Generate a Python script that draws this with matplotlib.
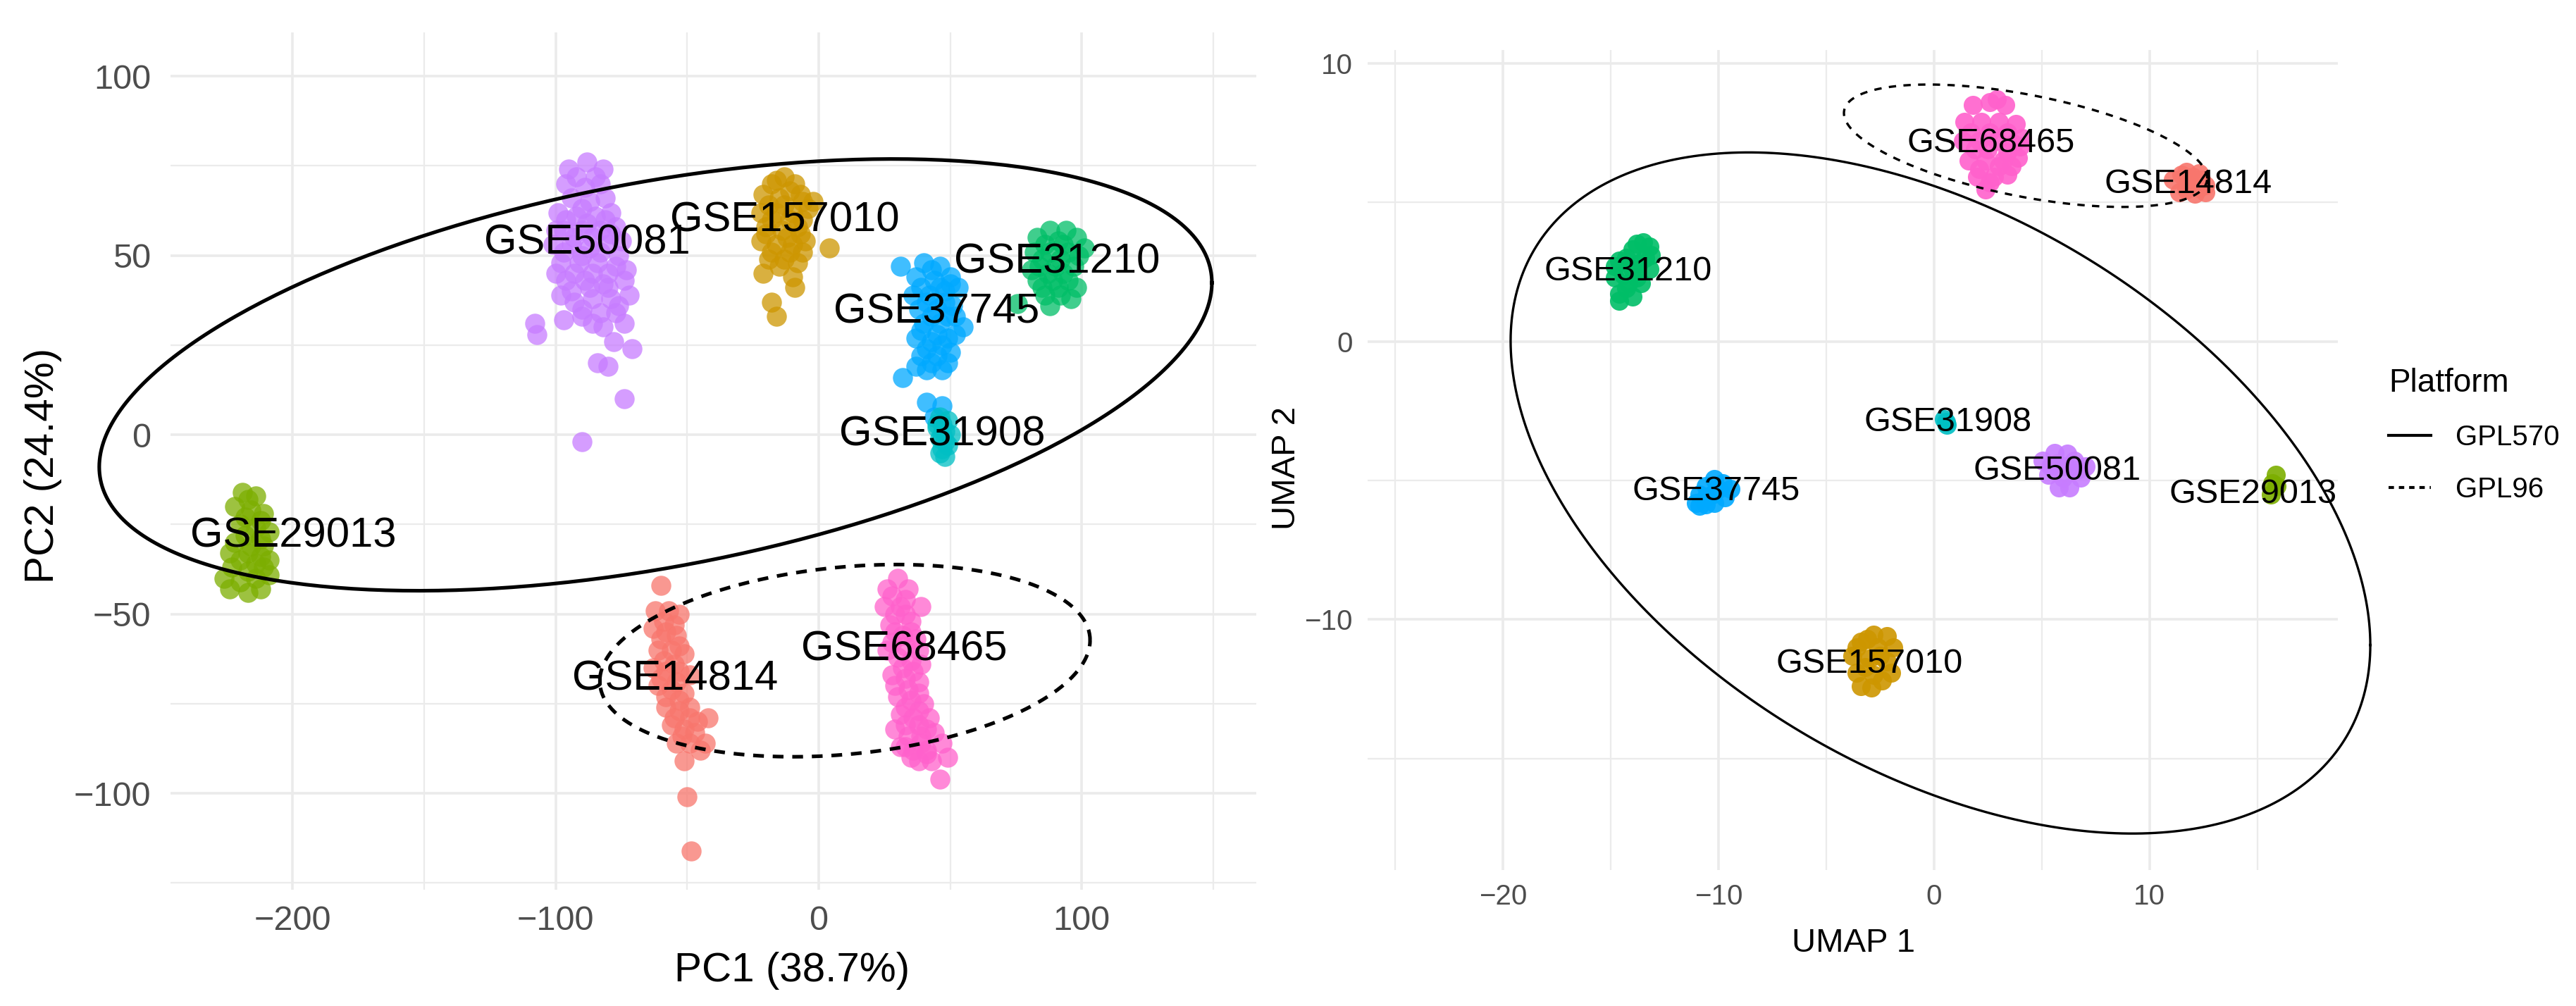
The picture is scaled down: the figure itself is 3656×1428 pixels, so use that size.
import numpy as np
import matplotlib
matplotlib.use("Agg")
import matplotlib.pyplot as plt
from matplotlib.lines import Line2D

plt.rcParams["font.family"] = ["Liberation Sans", "DejaVu Sans"]
plt.rcParams["lines.scale_dashes"] = False

# datasets, in ggplot's default hue order
datasets = ["GSE14814", "GSE157010", "GSE29013", "GSE31210",
            "GSE31908", "GSE37745", "GSE50081", "GSE68465"]
dataset_colors = ["#F8766D", "#CD9600", "#7CAE00", "#00BE67",
                  "#00BFC4", "#00A9FF", "#C77CFF", "#FF61CC"]
platforms = ["GPL570", "GPL96"]

# ---- PCA scores (PC1, PC2) ----
pca_gse14814 = [(-60, -42), (-62, -49), (-57, -49), (-53, -50), (-63, -54), (-58, -55),
                (-54, -56), (-61, -60), (-56, -60), (-51, -61), (-63, -65), (-58, -66),
                (-53, -66), (-49, -67), (-61, -70), (-56, -71), (-51, -72), (-58, -76),
                (-53, -77), (-49, -76), (-56, -81), (-51, -82), (-46, -80), (-42, -79),
                (-54, -86), (-49, -86), (-43, -86), (-51, -91), (-50, -101), (-48.5, -116),
                (-59, -52), (-55, -53), (-60, -57), (-53, -59), (-59, -63), (-55, -64),
                (-60, -68), (-54, -69), (-58, -73), (-53, -74), (-55, -79), (-49, -79),
                (-52, -84), (-47, -83), (-45, -88)]
pca_gse157010 = [(-13, 72), (-18, 70), (-9, 70), (-21, 67), (-15, 66), (-7, 67), (-2, 65),
                 (-22, 62), (-16, 62), (-10, 62), (-4, 63), (-20, 58), (-14, 57), (-8, 58),
                 (-22, 54), (-16, 53), (-10, 53), (-5, 54), (-19, 49), (-13, 49), (-8, 48),
                 (-21, 45), (-10, 44), (4, 52), (-9, 41), (-18, 37), (-16, 33),
                 (-16, 71), (-11, 68), (-19, 64), (-13, 64), (-6, 65), (-18, 60), (-11, 60),
                 (-6, 60), (-20, 56), (-12, 55), (-7, 56), (-18, 51), (-11, 51), (-15, 47),
                 (-6, 51)]
pca_gse29013 = [(-219, -16), (-214, -17), (-222, -20), (-216, -21), (-211, -22), (-220, -25),
                (-214, -26), (-209, -27), (-222, -30), (-216, -31), (-211, -31), (-220, -35),
                (-214, -36), (-209, -35), (-226, -40), (-220, -41), (-214, -40), (-209, -39),
                (-224, -43), (-217, -44), (-212, -43), (-217, -18), (-218, -23), (-212, -24),
                (-218, -28), (-212, -29), (-224, -33), (-217, -33), (-212, -34), (-223, -37),
                (-217, -38), (-211, -37)]
pca_gse31210 = [(88, 57), (94, 57), (83, 55), (91, 54), (98, 55), (82, 51), (88, 51),
                (95, 51), (101, 52), (84, 47), (90, 47), (97, 47), (83, 43), (89, 43),
                (95, 43), (86, 39), (92, 39), (88, 36), (75.5, 36.6), (98, 41),
                (86, 53), (93, 53), (85, 49), (92, 49), (99, 50), (87, 45), (93, 45),
                (81, 46), (91, 41), (85, 41), (96, 38)]
pca_gse31908 = [(46, 5), (49, 4), (45, 2), (48, 1), (50, 0), (46, -1), (49, -3),
                (47, -4), (48, -6), (45, 3), (47, 3), (47, 0), (48, -2), (46, -5)]
pca_gse37745 = [(31, 47), (40, 48), (46, 47), (37, 44), (44, 43), (50, 44), (36, 39),
                (42, 39), (48, 40), (53, 41), (38, 35), (45, 35), (51, 36), (40, 31),
                (46, 31), (55, 30), (37, 27), (43, 26), (49, 27), (39, 22), (45, 22),
                (50, 23), (41, 18), (47, 18), (32, 16), (41, 9), (47, 8), (44, 5),
                (43, 46), (39, 41), (46, 41), (50, 42), (41, 37), (48, 37), (43, 33),
                (49, 33), (52, 33), (39, 29), (45, 28), (52, 28), (41, 24), (47, 25),
                (43, 20), (49, 20), (37, 19)]
pca_gse50081 = [(-88, 76), (-92, 72), (-85, 72), (-96, 70), (-89, 69), (-83, 70), (-94, 66),
                (-87, 65), (-81, 66), (-99, 62), (-92, 61), (-85, 61), (-79, 62), (-97, 57),
                (-90, 57), (-83, 57), (-77, 58), (-101, 53), (-94, 53), (-87, 52), (-80, 53),
                (-75, 54), (-98, 48), (-91, 48), (-84, 48), (-77, 47), (-96, 43), (-89, 43),
                (-82, 42), (-74, 43), (-98, 39), (-86, 38), (-79, 38), (-72, 39), (-90, 35),
                (-83, 34), (-108, 31), (-107, 28), (-97, 32), (-90, 33), (-86, 31), (-74, 31),
                (-78, 26), (-71, 24), (-84, 20), (-80, 19), (-74, 10), (-90, -2),
                (-95, 74), (-82, 74), (-90, 63), (-96, 60), (-88, 59), (-81, 60), (-100, 57),
                (-93, 55), (-86, 55), (-79, 56), (-97, 51), (-90, 50), (-83, 51), (-76, 50),
                (-100, 45), (-93, 45), (-86, 45), (-80, 45), (-73, 46), (-94, 40), (-87, 41),
                (-80, 41), (-76, 36), (-93, 37), (-82, 30), (-77, 34)]
pca_gse68465 = [(30, -40), (26, -43), (34, -43), (39, -48), (25, -48), (31, -48), (35, -52),
                (27, -53), (32, -56), (37, -57), (26, -60), (30, -62), (35, -63), (39, -64),
                (28, -67), (33, -68), (38, -69), (30, -73), (35, -74), (40, -75), (31, -78),
                (36, -79), (42, -79), (29, -82), (34, -84), (39, -84), (44, -83), (31, -87),
                (36, -88), (41, -88), (47, -86), (38, -91), (43, -91), (49, -90), (46, -96),
                (28, -45), (33, -46), (29, -50), (33, -50), (29, -55), (35, -55), (28, -58),
                (33, -59), (38, -60), (32, -65), (36, -66), (29, -70), (34, -71), (38, -72),
                (33, -76), (38, -77), (33, -81), (38, -81), (41, -82), (33, -87), (39, -86),
                (35, -90), (41, -89)]

pca_label_x = [-54.7, -13.0, -199.6, 90.7, 47.1, 44.9, -88.0, 32.6]
pca_label_y = [-68.2, 59.8, -28.3, 48.1, 0.0, 34.2, 53.5, -59.9]

# platform ellipses: centre, half extents along PC1/PC2 and covariance term
pca_ell_cx = [-62.0, 10.0]
pca_ell_cy = [16.7, -63.0]
pca_ell_rx = [211.5, 93.2]
pca_ell_ry = [60.2, 26.8]
pca_ell_cov = [5430.0, 530.0]

# ---- UMAP embedding ----
umap_gse14814 = [(11.7, 6.1), (12.3, 6.05), (11.1, 5.8), (11.8, 5.7), (12.6, 5.6),
                 (11.4, 5.35), (12.1, 5.3), (12.6, 5.35), (12.0, 5.9), (11.5, 6.0),
                 (12.4, 5.8), (11.7, 5.45), (12.3, 5.5)]
umap_gse157010 = [(-2.8, -10.55), (-2.2, -10.6), (-3.4, -10.8), (-2.6, -11.0), (-1.9, -11.0),
                  (-3.8, -11.3), (-3.0, -11.4), (-2.2, -11.5), (-3.6, -11.9), (-2.8, -12.0),
                  (-2.0, -11.9), (-3.4, -12.4), (-2.9, -12.45), (-3.1, -10.7), (-3.2, -11.7),
                  (-2.4, -12.2), (-2.5, -11.3), (-3.6, -11.0)]
umap_gse29013 = [(15.85, -4.8), (15.7, -5.1), (15.9, -5.2), (15.65, -5.5)]
umap_gse31210 = [(-13.5, 3.55), (-13.2, 3.4), (-14.0, 3.3), (-13.4, 3.0), (-14.6, 2.9),
                 (-14.0, 2.6), (-13.2, 2.6), (-14.8, 2.3), (-14.2, 2.1), (-13.6, 2.1),
                 (-14.6, 1.7), (-14.0, 1.6), (-14.6, 1.45), (-14.8, 2.7), (-13.15, 3.1),
                 (-13.8, 3.5), (-14.3, 3.0), (-13.7, 2.8), (-14.4, 2.4), (-13.8, 2.3),
                 (-14.3, 1.9)]
umap_gse31908 = [(0.45, -2.8), (0.6, -3.0), (0.55, -2.9)]
umap_gse37745 = [(-10.2, -4.95), (-10.6, -5.2), (-9.8, -5.1), (-9.45, -5.3), (-10.9, -5.5),
                 (-10.3, -5.5), (-9.7, -5.6), (-11.05, -5.8), (-10.6, -5.85), (-10.9, -5.9),
                 (-10.0, -5.3), (-10.6, -5.6), (-10.2, -5.8)]
umap_gse50081 = [(5.6, -4.0), (6.2, -4.05), (5.05, -4.3), (5.7, -4.4), (6.5, -4.3),
                 (7.05, -4.5), (5.3, -4.8), (6.0, -4.9), (6.8, -4.9), (5.8, -5.25),
                 (6.3, -5.25), (6.1, -4.5), (5.4, -4.5), (6.7, -4.6)]
umap_gse68465 = [(1.8, 8.5), (2.6, 8.6), (3.3, 8.5), (1.4, 7.9), (2.2, 7.9), (3.0, 7.9),
                 (3.8, 7.8), (1.35, 7.2), (2.1, 7.2), (2.9, 7.2), (3.7, 7.1), (4.1, 7.3),
                 (1.6, 6.5), (2.4, 6.5), (3.2, 6.5), (3.9, 6.6), (2.0, 5.9), (2.8, 5.9),
                 (3.4, 6.0), (2.4, 5.45), (2.9, 8.7), (1.7, 7.5), (2.6, 7.5), (3.4, 7.5),
                 (1.9, 6.9), (2.5, 6.9), (3.4, 6.8), (2.1, 6.2), (3.0, 6.3), (3.6, 6.3),
                 (2.6, 5.7), (4.0, 7.0)]

umap_label_x = [11.8, -3.0, 14.8, -14.2, 0.65, -10.1, 5.7, 2.63]
umap_label_y = [5.65, -11.6, -5.5, 2.5, -2.9, -5.4, -4.65, 7.12]

umap_ell_cx = [0.3, 4.25]
umap_ell_cy = [-5.45, 7.03]
umap_ell_rx = [19.95, 8.43]
umap_ell_ry = [12.24, 2.2]
umap_ell_cov = [-109.0, -9.9]

pca_points = [pca_gse14814, pca_gse157010, pca_gse29013, pca_gse31210,
              pca_gse31908, pca_gse37745, pca_gse50081, pca_gse68465]
umap_points = [umap_gse14814, umap_gse157010, umap_gse29013, umap_gse31210,
               umap_gse31908, umap_gse37745, umap_gse50081, umap_gse68465]
draw_order = [2, 6, 1, 3, 5, 4, 0, 7]

GRID = "#EBEBEB"
TICK = "#4D4D4D"


def ellipse_curve(cx, cy, rx, ry, cov):
    # same construction as stat_ellipse: centre + chol(Sigma) * unit circle
    sigma = np.array([[rx ** 2, cov], [cov, ry ** 2]])
    chol = np.linalg.cholesky(sigma)
    t = np.linspace(0, 2 * np.pi, 361)
    xy = chol @ np.vstack([np.cos(t), np.sin(t)])
    return cx + xy[0], cy + xy[1]


def style_axes(ax, xmaj, xmin, ymaj, ymin, tsize, xpad, ypad):
    for s in ax.spines.values():
        s.set_visible(False)
    ax.set_xticks(xmaj)
    ax.set_xticks(xmin, minor=True)
    ax.set_yticks(ymaj)
    ax.set_yticks(ymin, minor=True)
    ax.grid(which="major", color=GRID, lw=2.6)
    ax.grid(which="minor", color=GRID, lw=1.6)
    ax.set_axisbelow(True)
    ax.tick_params(which="both", length=0, labelsize=tsize, labelcolor=TICK)
    ax.tick_params(axis="x", pad=xpad)
    ax.tick_params(axis="y", pad=ypad)


fig = plt.figure(figsize=(36.56, 14.28), dpi=100)

# ---------------- left: PCA ----------------
ax1 = fig.add_axes([0.0663, 0.1155, 0.4214, 0.8523])
for i in draw_order:
    pts = np.array(pca_points[i])
    ax1.scatter(pts[:, 0], pts[:, 1], s=420, color=dataset_colors[i],
                alpha=0.75, linewidths=0, zorder=2)
pca_styles = ["-", (0, (11.0, 9.0))]
for k in range(len(platforms)):
    ex, ey = ellipse_curve(pca_ell_cx[k], pca_ell_cy[k], pca_ell_rx[k],
                           pca_ell_ry[k], pca_ell_cov[k])
    ax1.plot(ex, ey, color="black", lw=3.7, ls=pca_styles[k], zorder=3, clip_on=False)
for i, name in enumerate(datasets):
    ax1.text(pca_label_x[i], pca_label_y[i], name, fontsize=43, ha="center",
             va="center", color="black", zorder=4)
ax1.set_xlim(-246.3, 166.4)
ax1.set_ylim(-126.9, 112.2)
style_axes(ax1, [-200, -100, 0, 100], [-150, -50, 50, 150],
           [-100, -50, 0, 50, 100], [-125, -75, -25, 25, 75], 35, 16, 20)
ax1.set_xlabel("PC1 (38.7%)", fontsize=42)
ax1.xaxis.label.set_va("center")
ax1.xaxis.set_label_coords(0.572, -0.0945)
ax1.set_ylabel("PC2 (24.4%)", fontsize=42)
ax1.yaxis.label.set_va("center")
ax1.yaxis.set_label_coords(-0.1178, 0.4947)

# ---------------- right: UMAP ----------------
ax2 = fig.add_axes([0.5308, 0.1352, 0.3768, 0.8148])
for i in draw_order:
    pts = np.array(umap_points[i])
    ax2.scatter(pts[:, 0], pts[:, 1], s=380, color=dataset_colors[i],
                alpha=0.9, linewidths=0, zorder=2)
umap_styles = ["-", (0, (7.5, 7.5))]
for k in range(len(platforms)):
    ex, ey = ellipse_curve(umap_ell_cx[k], umap_ell_cy[k], umap_ell_rx[k],
                           umap_ell_ry[k], umap_ell_cov[k])
    ax2.plot(ex, ey, color="black", lw=2.4, ls=umap_styles[k], zorder=3, clip_on=False)
for i, name in enumerate(datasets):
    ax2.text(umap_label_x[i], umap_label_y[i], name, fontsize=35, ha="center",
             va="center", color="black", zorder=4)
ax2.set_xlim(-26.3, 18.75)
ax2.set_ylim(-19.0, 10.46)
style_axes(ax2, [-20, -10, 0, 10], [-25, -15, -5, 5, 15],
           [-10, 0, 10], [-15, -5, 5], 29, 14, 15)
ax2.set_xlabel("UMAP 1", fontsize=34)
ax2.xaxis.label.set_va("center")
ax2.xaxis.set_label_coords(0.501, -0.0898)
ax2.set_ylabel("UMAP 2", fontsize=34)
ax2.yaxis.label.set_va("center")
ax2.yaxis.set_label_coords(-0.0832, 0.49)

handles = [Line2D([], [], color="black", lw=3.0, ls="-"),
           Line2D([], [], color="black", lw=3.0, ls=(0, (5.5, 5.0)))]
leg = fig.legend(handles, platforms, title="Platform", loc="upper left",
                 bbox_to_anchor=(3390 / 3656, 1 - 522 / 1428), frameon=False,
                 fontsize=29, title_fontsize=33, handlelength=1.5,
                 handletextpad=0.85, labelspacing=0.9, borderpad=0,
                 borderaxespad=0, alignment="left")

fig.savefig("out.png", dpi=100, facecolor="white")
